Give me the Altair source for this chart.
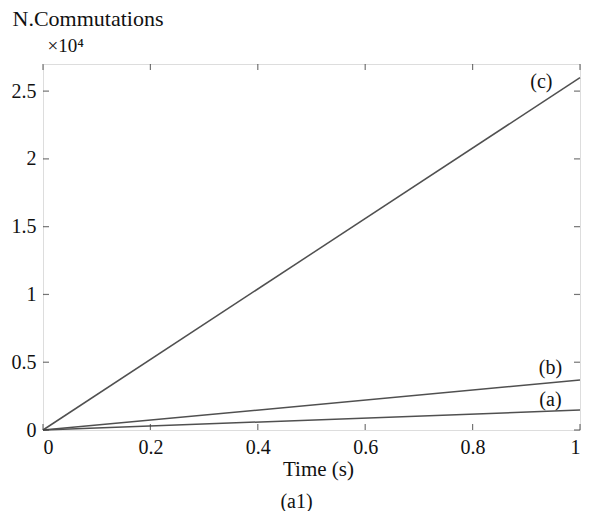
import altair as alt
import pandas as pd

# ---- data ----
time_s = [0.0, 1.0]
series_names = ["(a)", "(b)", "(c)"]
series_a = [0, 1470]
series_b = [0, 3680]
series_c = [0, 26000]

label_text = ["(a)", "(b)", "(c)"]
label_x = [0.945, 0.945, 0.928]
label_y = [2219, 4586, 25668]

x_ticks = [0, 0.2, 0.4, 0.6, 0.8, 1.0]
y_ticks = [0, 5000, 10000, 15000, 20000, 25000]
y_max = 27000

rows = []
for name, vals in zip(series_names, [series_a, series_b, series_c]):
    for t, v in zip(time_s, vals):
        rows.append({"series": name, "t": t, "n": v})
df = pd.DataFrame(rows)
lab = pd.DataFrame({"label": label_text, "t": label_x, "n": label_y})

xt_bottom = pd.DataFrame({"t": x_ticks, "n": [0] * len(x_ticks)})
xt_top = pd.DataFrame({"t": x_ticks, "n": [y_max] * len(x_ticks)})
yt_left = pd.DataFrame({"t": [0] * len(y_ticks), "n": y_ticks})
yt_right = pd.DataFrame({"t": [1] * len(y_ticks), "n": y_ticks})

FONT = "Liberation Serif"
LINE = "#505050"
AX = "#3a3a3a"
TXT = "#111111"
TL = 6  # tick length

xs = alt.Scale(domain=[0, 1], nice=False, zero=False)
ys = alt.Scale(domain=[0, y_max], nice=False, zero=False)

# Layer 1: data lines + labelled axes (no ticks)
lines = alt.Chart(df).mark_line(color=LINE, strokeWidth=1.5).encode(
    x=alt.X("t:Q", scale=xs, axis=alt.Axis(
        orient="bottom", values=x_ticks, ticks=False, domain=False, grid=False,
        labelExpr="format(datum.value, '~g')", labelFont=FONT, labelFontSize=20,
        labelColor=TXT, labelPadding=7,
        title="Time (s)", titleFont=FONT, titleFontSize=21, titleFontWeight="normal",
        titleColor=TXT, titleBaseline="alphabetic", titleX=275, titleY=45)),
    y=alt.Y("n:Q", scale=ys, axis=alt.Axis(
        orient="left", values=y_ticks, ticks=False, domain=False, grid=False,
        labelExpr="format(datum.value/10000, '~g')", labelFont=FONT, labelFontSize=20,
        labelColor=TXT, labelPadding=7,
        title="N.Commutations", titleFont=FONT, titleFontSize=22, titleFontWeight="normal",
        titleColor=TXT, titleAngle=0, titleAlign="left", titleBaseline="alphabetic",
        titleX=-31, titleY=-39)),
    detail="series:N",
)

# Layer 2: bottom inward ticks; carries the caption and the exponent as axis titles
ticks_b = alt.Chart(xt_bottom).mark_tick(
    orient="vertical", size=TL, thickness=1.2, color=AX, yOffset=-TL / 2
).encode(
    x=alt.X("t:Q", scale=xs, axis=alt.Axis(
        orient="bottom", labels=False, ticks=False, domain=False, grid=False,
        title="(a1)", titleFont=FONT, titleFontSize=20, titleFontWeight="normal",
        titleColor=TXT, titleBaseline="alphabetic", titleX=253, titleY=77)),
    y=alt.Y("n:Q", scale=ys, axis=alt.Axis(
        orient="left", labels=False, ticks=False, domain=False, grid=False,
        title="×10⁴", titleFont=FONT, titleFontSize=19, titleFontWeight="normal",
        titleColor=TXT, titleAngle=0, titleAlign="left", titleBaseline="alphabetic",
        titleX=4, titleY=-13)),
)

ticks_t = alt.Chart(xt_top).mark_tick(
    orient="vertical", size=TL, thickness=1.2, color=AX, yOffset=TL / 2
).encode(
    x=alt.X("t:Q", scale=xs, axis=None),
    y=alt.Y("n:Q", scale=ys, axis=None),
)

ticks_l = alt.Chart(yt_left).mark_tick(
    orient="horizontal", size=TL, thickness=1.2, color=AX, xOffset=TL / 2
).encode(
    x=alt.X("t:Q", scale=xs, axis=None),
    y=alt.Y("n:Q", scale=ys, axis=None),
)

ticks_r = alt.Chart(yt_right).mark_tick(
    orient="horizontal", size=TL, thickness=1.2, color=AX, xOffset=-TL / 2
).encode(
    x=alt.X("t:Q", scale=xs, axis=None),
    y=alt.Y("n:Q", scale=ys, axis=None),
)

labels = alt.Chart(lab).mark_text(font=FONT, fontSize=20, color=TXT,
                                  align="center", baseline="middle").encode(
    x=alt.X("t:Q", scale=xs, axis=None),
    y=alt.Y("n:Q", scale=ys, axis=None),
    text="label:N",
)

chart = alt.layer(lines, ticks_b, ticks_t, ticks_l, ticks_r, labels).resolve_axis(
    x="independent", y="independent"
).properties(
    width=537, height=366,
    autosize=alt.AutoSizeParams(type="none"),
    padding={"left": 35, "top": 56, "right": 4, "bottom": 81},
).configure_view(stroke=AX, strokeWidth=1.5).configure(background="white")

chart.save("out.html", embed_options={"renderer": "svg", "actions": False})
